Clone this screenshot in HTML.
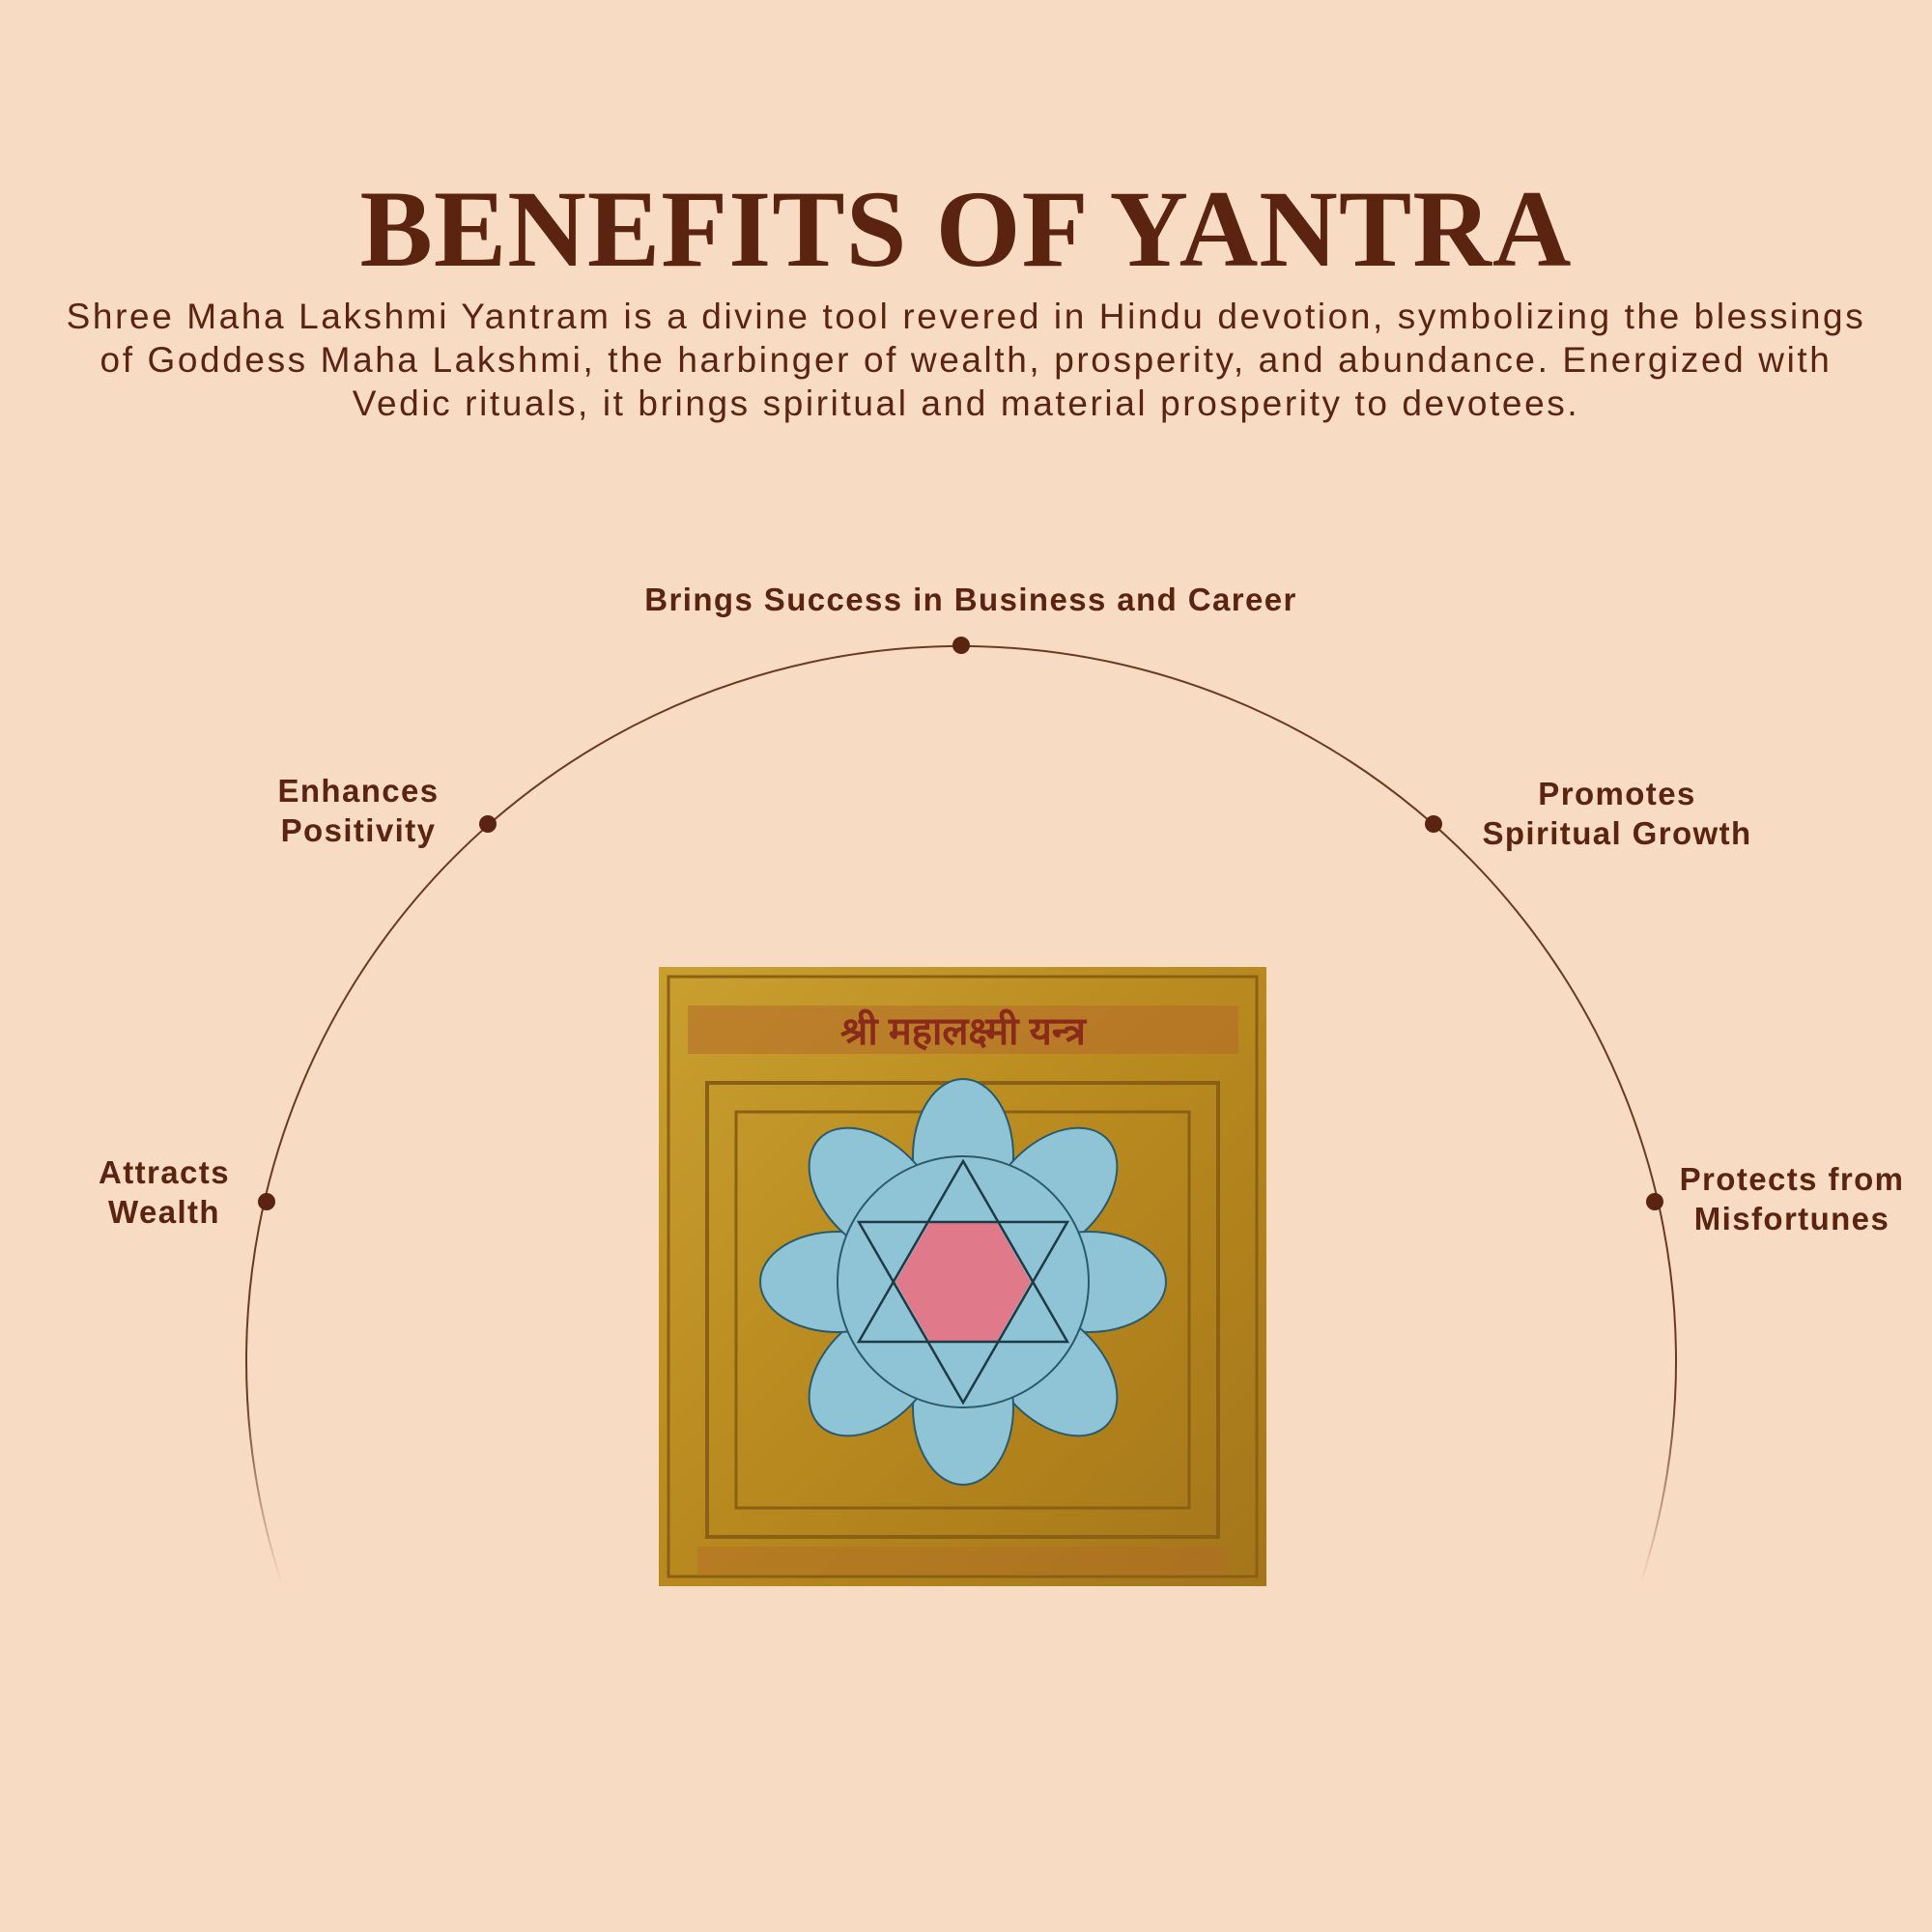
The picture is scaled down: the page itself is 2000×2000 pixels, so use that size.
<!DOCTYPE html>
<html><head><meta charset="utf-8"><style>
html,body{margin:0;padding:0}
body{width:2000px;height:2000px;background:#f8dbc3;position:relative;overflow:hidden;color:#5a2410;font-family:"Liberation Sans",sans-serif}
.t{position:absolute;left:0;width:2000px;text-align:center}
h1{position:absolute;left:0;top:178px;width:2000px;margin:0;text-align:center;font-family:"Liberation Serif",serif;font-weight:bold;font-size:113px;letter-spacing:1px;line-height:120px;color:#5a2410}
.p{top:305px;font-size:37px;letter-spacing:2.6px;line-height:45px;color:#5a2410}
.l{position:absolute;font-weight:bold;font-size:33px;letter-spacing:1.4px;line-height:41px;text-align:center;transform:translateX(-50%);white-space:nowrap;color:#5a2410}
</style></head><body>
<h1>BENEFITS OF YANTRA</h1>
<div class="t p">Shree Maha Lakshmi Yantram is a divine tool revered in Hindu devotion, symbolizing the blessings<br>of Goddess Maha Lakshmi, the harbinger of wealth, prosperity, and abundance. Energized with<br>Vedic rituals, it brings spiritual and material prosperity to devotees.</div>

<svg style="position:absolute;left:0;top:0" width="2000" height="2000">
<defs><linearGradient id="fd" x1="0" y1="0" x2="0" y2="1">
<stop offset="0.8" stop-color="#6b3a22" stop-opacity="1"/><stop offset="1" stop-color="#6b3a22" stop-opacity="0"/></linearGradient>
<linearGradient id="gold" x1="0" y1="0" x2="1" y2="1"><stop offset="0" stop-color="#c9a030"/><stop offset="0.5" stop-color="#b8891e"/><stop offset="1" stop-color="#a4761a"/></linearGradient></defs>
<path d="M292 1640 A740 740 0 1 1 1698 1640" fill="none" stroke="url(#fd)" stroke-width="2"/>
<g fill="#5a2410">
<circle cx="995" cy="668" r="9"/><circle cx="505" cy="853" r="9"/><circle cx="276" cy="1244" r="9"/><circle cx="1484" cy="853" r="9"/><circle cx="1713" cy="1244" r="9"/>
</g>
<g transform="translate(682,1001)">
<rect x="0" y="0" width="629" height="641" fill="url(#gold)"/>
<rect x="10" y="10" width="609" height="621" fill="none" stroke="#8a6015" stroke-width="3"/>
<rect x="30" y="40" width="570" height="50" fill="#b46a2a" opacity="0.55"/>
<text x="315" y="80" text-anchor="middle" font-family="Liberation Sans, sans-serif" font-size="40" font-weight="bold" fill="#8a2a1a">श्री महालक्ष्मी यन्त्र</text>
<rect x="50" y="120" width="529" height="470" fill="none" stroke="#8a6015" stroke-width="4"/>
<rect x="80" y="150" width="469" height="410" fill="none" stroke="#8a6015" stroke-width="3"/>
<rect x="40" y="600" width="549" height="30" fill="#b46a2a" opacity="0.4"/>
<g transform="translate(315,326)">
<g fill="#8fc4d6" stroke="#2b5a6a" stroke-width="2">
<ellipse cx="0" cy="-130" rx="52" ry="80"/>
<ellipse cx="0" cy="-130" rx="52" ry="80" transform="rotate(45)"/>
<ellipse cx="0" cy="-130" rx="52" ry="80" transform="rotate(90)"/>
<ellipse cx="0" cy="-130" rx="52" ry="80" transform="rotate(135)"/>
<ellipse cx="0" cy="-130" rx="52" ry="80" transform="rotate(180)"/>
<ellipse cx="0" cy="-130" rx="52" ry="80" transform="rotate(225)"/>
<ellipse cx="0" cy="-130" rx="52" ry="80" transform="rotate(270)"/>
<ellipse cx="0" cy="-130" rx="52" ry="80" transform="rotate(315)"/>
<circle r="130"/>
</g>
<polygon points="-70,0 -35,-61 35,-61 70,0 35,61 -35,61" fill="#e07a8a"/>
<g fill="none" stroke="#1e3a44" stroke-width="2.5">
<polygon points="0,-125 108,62 -108,62"/><polygon points="0,125 108,-62 -108,-62"/>
</g>
</g>
</g>
</svg>

<div class="l" style="left:1005px;top:600px">Brings Success in Business and Career</div>
<div class="l" style="left:371px;top:798px">Enhances<br>Positivity</div>
<div class="l" style="left:170px;top:1193px">Attracts<br>Wealth</div>
<div class="l" style="left:1674px;top:801px">Promotes<br>Spiritual Growth</div>
<div class="l" style="left:1855px;top:1200px">Protects from<br>Misfortunes</div>
</body></html>
